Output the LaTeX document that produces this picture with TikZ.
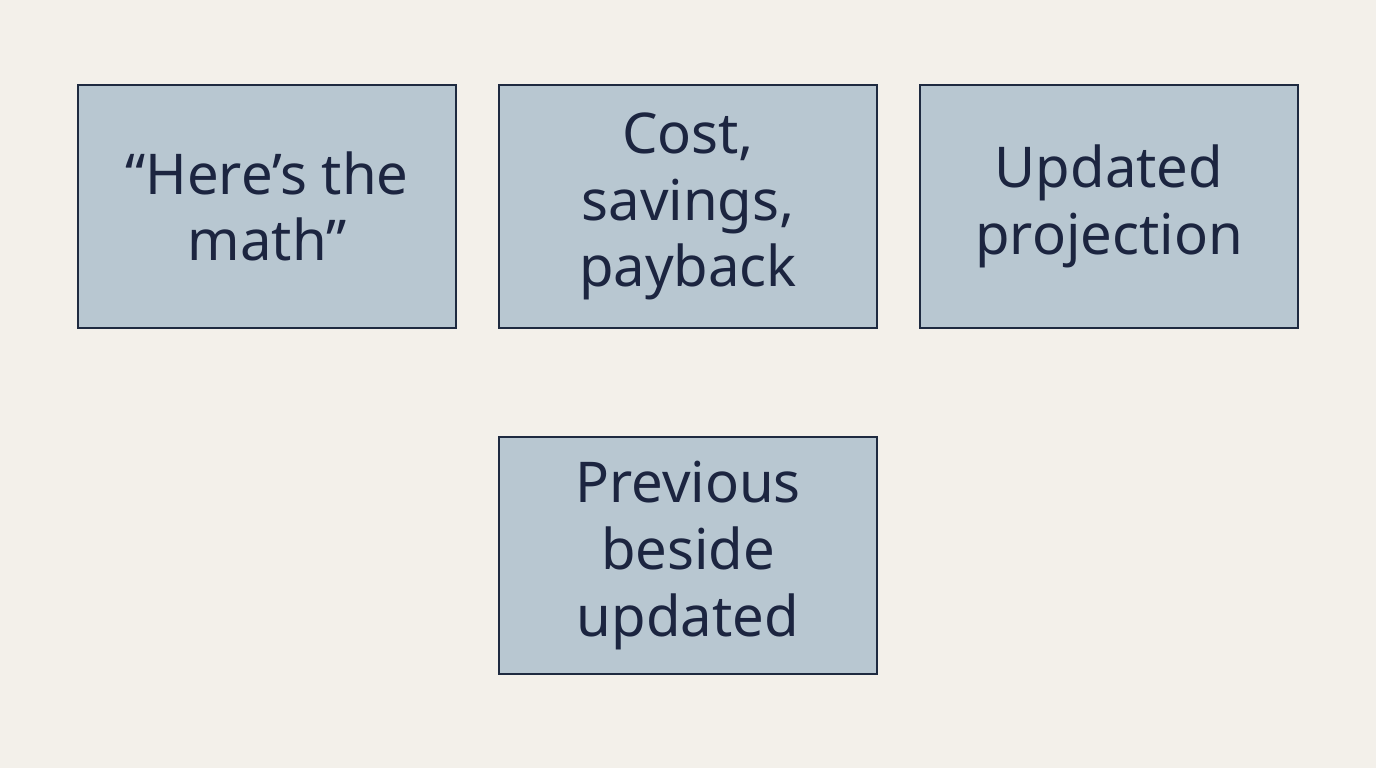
\documentclass[tikz,border=0pt]{standalone}
\usepackage{fontspec}
\setmainfont{Noto Sans}
\definecolor{bg}{HTML}{F3F0EA}
\definecolor{boxfill}{HTML}{B8C7D1}
\definecolor{boxline}{HTML}{1E2A40}
\definecolor{txt}{HTML}{1C2540}
\begin{document}
\begin{tikzpicture}[x=0.02cm,y=-0.02cm,
  box/.style={draw=boxline,line width=1.2pt,fill=boxfill,minimum width=7.56cm,minimum height=4.86cm,
    align=center,text=txt,font=\fontsize{32}{38}\selectfont,inner sep=0pt}]
\fill[bg] (0,0) rectangle (1376,768);
\useasboundingbox (0,0) rectangle (1376,768);
\node[box] (a) at (267,206.5) {“Here’s the\\math”};
\node[box] (b) at (688,206.5) {Cost,\\savings,\\payback};
\node[box] (c) at (1109,206.5) {Updated\\projection};
\node[box,minimum height=4.74cm] (d) at (688,555.5) {Previous\\beside\\updated};
\end{tikzpicture}
\end{document}
